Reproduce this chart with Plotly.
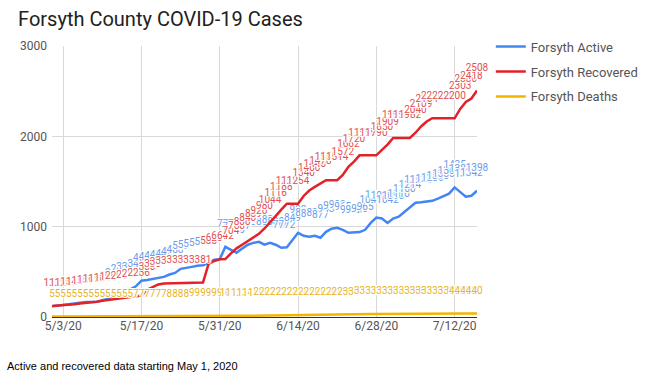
import pandas as pd
import plotly.graph_objects as go

dates = pd.date_range("2020-05-01", "2020-07-16", freq="D")

active = [120, 125, 130, 140, 150, 160, 165, 166, 170, 185,
          200, 240, 277, 300, 305, 340, 402, 410, 420, 430,
          444, 470, 488, 533, 540, 555, 567, 573, 600, 633,
          640, 777, 744, 710, 757, 800, 821, 832, 800, 821,
          800, 766, 772, 849, 932, 899, 888, 899, 877, 943,
          977, 988, 965, 932, 932, 940, 965, 1041, 1101, 1090,
          1042, 1090, 1110, 1160, 1214, 1265, 1270, 1276, 1286, 1310,
          1335, 1365, 1435, 1385, 1331, 1342, 1398]

recovered = [122, 125, 128, 135, 140, 150, 155, 165, 170, 180,
             190, 200, 205, 215, 222, 230, 236, 300, 330, 360,
             370, 372, 375, 375, 376, 378, 380, 381, 588, 620,
             640, 642, 704, 760, 800, 840, 889, 920, 980, 1044,
             1116, 1188, 1254, 1254, 1254, 1340, 1400, 1440, 1478, 1514,
             1514, 1514, 1572, 1662, 1720, 1790, 1790, 1790, 1790, 1850,
             1909, 1982, 1982, 1982, 1982, 2040, 2109, 2164, 2200, 2200,
             2200, 2200, 2200, 2303, 2380, 2418, 2508]

deaths = [5] * 15 + [7] * 6 + [8] * 4 + [9] * 6 + \
         [10, 11, 12, 13, 14, 15] + \
         [20, 20, 21, 21, 22, 22, 23, 24, 24, 25, 26, 26, 27, 28, 28, 29] + \
         [30, 30, 31, 31, 32, 32, 33, 33, 34, 34, 35, 35, 36, 36, 37, 37, 38, 38, 39] + \
         [40] * 5

series_names = ["Forsyth Active", "Forsyth Recovered", "Forsyth Deaths"]
line_colors = ["#4285F4", "#E32227", "#F4B400"]
label_colors = ["#6A9BEA", "#E05050", "#E6B422"]

tick_dates = ["2020-05-03", "2020-05-17", "2020-05-31", "2020-06-14", "2020-06-28", "2020-07-12"]
tick_text = ["5/3/20", "5/17/20", "5/31/20", "6/14/20", "6/28/20", "7/12/20"]
y_ticks = [0, 1000, 2000, 3000]

halo = ("1px 1px 0px white, -1px -1px 0px white, 1px -1px 0px white, -1px 1px 0px white, "
        "0px 1px 0px white, 0px -1px 0px white, 2px 0px 0px white")

fig = go.Figure()
for name, vals, lc, tc in zip(series_names, [active, recovered, deaths], line_colors, label_colors):
    fig.add_trace(go.Scatter(
        x=dates, y=vals, name=name, legendgroup=name,
        mode="lines+markers+text",
        line=dict(color=lc, width=2.5),
        marker=dict(size=26, color="rgba(0,0,0,0)"),
        text=[str(v) for v in vals],
        textposition="top center",
        textfont=dict(family="Roboto", size=10, color=tc, shadow=halo),
        cliponaxis=False,
    ))

fig.update_layout(
    width=646, height=373,
    margin=dict(l=52, r=169, t=46, b=56, autoexpand=False),
    paper_bgcolor="white", plot_bgcolor="white",
    title=dict(text="Forsyth County COVID-19 Cases", x=0.028, xanchor="left",
               y=1 - 19 / 373, yanchor="middle", yref="container",
               pad=dict(l=0, r=0, t=0, b=0),
               font=dict(family="Roboto", size=20, color="#212121")),
    font=dict(family="Roboto", color="#555555"),
    showlegend=True,
    legend=dict(x=1.0325, y=1.053, xanchor="left", yanchor="top",
                tracegroupgap=5,
                font=dict(family="Roboto", size=13, color="#555555"),
                bgcolor="rgba(0,0,0,0)"),
    xaxis=dict(range=[dates[0], dates[-1]], tickvals=tick_dates, ticktext=tick_text,
               showgrid=True, gridcolor="#D9D9D9", gridwidth=1,
               tickfont=dict(size=12, color="#555555"), ticks="", zeroline=False,
               showline=False),
    yaxis=dict(range=[0, 3000], tickvals=y_ticks, showgrid=True, gridcolor="#D9D9D9",
               tickfont=dict(size=12, color="#555555"), zeroline=True,
               zerolinecolor="#333333", zerolinewidth=1, ticks="",
               ticklabelstandoff=4),
    annotations=[dict(text="Active and recovered data starting May 1, 2020",
                      xref="paper", yref="paper", x=0, y=0, xanchor="left", yanchor="middle",
                      xshift=-47, yshift=-49, showarrow=False,
                      font=dict(family="Liberation Sans", size=11, color="#000000"))],
)

fig.write_html("out.html",
               config={"displayModeBar": False},
               post_script="document.body.style.margin='0';document.body.style.overflow='hidden';")
